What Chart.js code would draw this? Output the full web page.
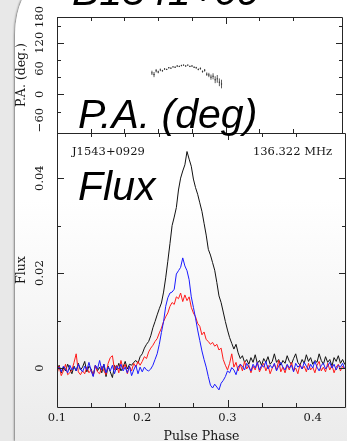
<!DOCTYPE html>
<html>
<head>
<meta charset="utf-8">
<script src="https://cdn.jsdelivr.net/npm/chart.js@4.4.1/dist/chart.umd.min.js"></script>
<style>
html, body { margin: 0; padding: 0; width: 347px; height: 441px; overflow: hidden; background: #e8e8e8; }
#sheet {
  position: absolute; left: 15px; top: -20px; width: 340px; height: 461px;
  border-top-left-radius: 30px 55px;
  background: linear-gradient(to bottom, #fff 0px, #fff 220px, #f6f6f6 330px, #ebebeb 461px);
  box-shadow: -1px 0 2px rgba(0, 0, 0, 0.45);
}
canvas { position: absolute; left: 0; top: 0; }
</style>
</head>
<body>
<div id="sheet"></div>
<canvas id="paChart" width="347" height="441"></canvas>
<canvas id="fluxChart" width="347" height="441"></canvas>
<script>
// profile bins: phase 0.1 upward in steps of 0.0025
const phaseStart = 0.1;
const phaseStep = 0.0025;

// total intensity (black)
const totalI = [
  -0.0004, 0.0006, -0.0010, 0.0002, -0.0006, 0.0008, -0.0002, -0.0012, 0.0004, -0.0006,
  0.0010, -0.0004, 0.0002, 0.0014, -0.0008, 0.0004, -0.0002, -0.0016, 0.0006, -0.0006,
  0.0002, -0.0010, 0.0008, -0.0018, 0.0004, -0.0008, -0.0020, 0.0006, -0.0004, 0.0010,
  -0.0006, 0.0002, 0.0014, -0.0002, 0.0008, 0.0006,
  0.0012, 0.0016, 0.0010, 0.0024, 0.0030, 0.0042, 0.0050, 0.0056, 0.0068, 0.0085,
  0.0098, 0.0112, 0.0125, 0.0137, 0.0160, 0.0190, 0.0225, 0.0262, 0.0300, 0.0318,
  0.0338, 0.0375, 0.0400, 0.0415, 0.0428, 0.0456, 0.0440, 0.0425, 0.0398, 0.0380,
  0.0366, 0.0348, 0.0330, 0.0305, 0.0280, 0.0250, 0.0238, 0.0222, 0.0206, 0.0180,
  0.0152, 0.0138, 0.0118, 0.0098, 0.0080, 0.0064, 0.0052, 0.0040, 0.0050, 0.0032,
  0.0020, 0.0026, 0.0012,
  0.0018, 0.0008, 0.0022, 0.0012, 0.0028, 0.0010, 0.0016, 0.0006, 0.0020, 0.0012,
  0.0024, 0.0008, 0.0014, 0.0030, 0.0012, 0.0018, 0.0006, 0.0016, 0.0010, 0.0026,
  0.0014, 0.0008, 0.0020, 0.0030, 0.0012, 0.0006, 0.0018, 0.0010, 0.0028, 0.0014,
  0.0022, 0.0008, 0.0016, 0.0012, 0.0030, 0.0016, 0.0008, 0.0024, 0.0012, 0.0018,
  0.0004, 0.0022, 0.0014, 0.0026, 0.0010, 0.0018, 0.0008, 0.0016
];

// linear polarisation (red)
const linearL = [
  -0.0012, 0.0004, -0.0016, -0.0006, 0.0008, -0.0014, -0.0010, -0.0004, 0.0012, 0.0030,
  -0.0008, -0.0014, -0.0006, -0.0012, 0.0002, -0.0010, -0.0004, -0.0016, 0.0006, -0.0008,
  -0.0012, 0.0004, -0.0006, -0.0014, 0.0010, 0.0022, 0.0026, -0.0004, 0.0006, -0.0010,
  0.0016, -0.0002, 0.0008, -0.0012, 0.0004, -0.0006, 0.0010, 0.0002, 0.0014, 0.0006,
  0.0014, 0.0024, 0.0020, 0.0034, 0.0042, 0.0048, 0.0056, 0.0062, 0.0074, 0.0084,
  0.0098, 0.0108, 0.0116, 0.0130, 0.0138, 0.0134, 0.0150, 0.0146, 0.0158, 0.0140,
  0.0154, 0.0142, 0.0150, 0.0128, 0.0116, 0.0108, 0.0094, 0.0088, 0.0070, 0.0076,
  0.0060, 0.0056, 0.0050, 0.0054, 0.0046, 0.0050, 0.0038, 0.0042, 0.0018, 0.0006,
  -0.0004, 0.0010, 0.0030, 0.0002, 0.0012, -0.0006,
  0.0008, -0.0006, 0.0014, -0.0002, 0.0006, -0.0010, 0.0004, -0.0004, 0.0012, -0.0008,
  0.0002, 0.0010, -0.0006, 0.0006, -0.0012, 0.0000, 0.0008, -0.0004, 0.0016, -0.0008,
  0.0002, -0.0010, 0.0006, -0.0004, 0.0012, -0.0006, 0.0000, -0.0012, 0.0008, -0.0002,
  0.0004, -0.0008, 0.0010, -0.0004, 0.0002, -0.0010, 0.0006, 0.0014, -0.0006, 0.0002,
  -0.0008, 0.0010, -0.0004, 0.0006, -0.0010, 0.0002, 0.0008, -0.0006, 0.0004, -0.0002,
  0.0006
];

// circular polarisation (blue)
const circularV = [
  -0.0004, 0.0002, -0.0008, 0.0004, -0.0002, -0.0010, 0.0006, -0.0004, 0.0002, -0.0006,
  0.0008, -0.0002, -0.0008, 0.0004, -0.0004, 0.0012, -0.0006, -0.0018, 0.0006, -0.0002,
  0.0016, -0.0004, 0.0008, -0.0010, 0.0002, -0.0006, 0.0006, -0.0012, 0.0004, -0.0002,
  0.0008, -0.0006, 0.0002, -0.0010, 0.0004, -0.0016, -0.0004, 0.0006, -0.0012, 0.0002,
  -0.0008, 0.0002, -0.0004, -0.0006, -0.0002, 0.0006, 0.0018, 0.0030, 0.0050, 0.0075,
  0.0098, 0.0130, 0.0148, 0.0158, 0.0160, 0.0166, 0.0198, 0.0205, 0.0212, 0.0232,
  0.0215, 0.0205, 0.0186, 0.0150, 0.0128, 0.0105, 0.0080, 0.0058, 0.0036, 0.0018,
  0.0002, -0.0018, -0.0036, -0.0042, -0.0034, -0.0040, -0.0046, -0.0032, -0.0026, -0.0018,
  -0.0006, -0.0010, 0.0001, -0.0004, -0.0014, 0.0002, 0.0008,
  0.0004, -0.0004, 0.0010, 0.0002, -0.0006, 0.0008, 0.0000, 0.0012, -0.0004, 0.0006,
  0.0002, 0.0014, -0.0002, 0.0006, 0.0000, 0.0010, -0.0006, 0.0004, 0.0012, 0.0002,
  -0.0004, 0.0008, 0.0000, 0.0006, -0.0008, 0.0010, 0.0002, 0.0006, -0.0002, 0.0012,
  0.0004, -0.0004, 0.0008, 0.0000, 0.0014, 0.0002, -0.0006, 0.0006, 0.0010, -0.0002,
  0.0004, 0.0012, 0.0000, 0.0008, -0.0004, 0.0006, 0.0002, 0.0010, -0.0002, 0.0004
];

// position angle (deg) with error, from phase 0.2125
const paStart = 0.2125;
const paAngle = [
  50, 46, 55, 52, 57, 55, 59, 58, 62, 61, 64, 63, 66, 65, 67, 68, 66,
  68, 65, 66, 63, 62, 58, 60, 53, 56, 47, 45, 40, 42, 34, 36, 28, 24
];
const paError = [
  5, 6, 4, 3, 3, 2, 2, 1.5, 1.5, 1.5, 1.5, 1.5, 1.5, 1.5, 1.5, 1.5, 1.5,
  1.5, 1.5, 1.5, 1.5, 2, 2, 2.5, 2.5, 3, 4, 5, 6, 7, 8, 9, 9, 10
];

const phaseTicks = [0.1, 0.2, 0.3, 0.4];
const paTicks = [-60, 0, 60, 120, 180];
const fluxTicks = [0, 0.02, 0.04];

const serif = '"DejaVu Serif", "Liberation Serif", serif';

function binPhase(start, i) {
  return +(start + i * phaseStep).toFixed(4);
}

function toPoints(values) {
  return values.map((v, i) => ({ x: binPhase(phaseStart, i), y: v }));
}

function multipleOf(v, step) {
  const r = v / step;
  return Math.abs(r - Math.round(r)) < 1e-6;
}

function fmt(v) {
  return v < 0 ? '\u2212' + Math.abs(v) : String(v);
}

// box, inward ticks on all four sides and the pgplot style labels
const frameTicks = {
  id: 'frameTicks',
  afterDatasetsDraw(chart, args, o) {
    const ctx = chart.ctx;
    const a = chart.chartArea;
    const x = chart.scales.x;
    const y = chart.scales.y;
    ctx.save();
    ctx.strokeStyle = '#262626';
    ctx.lineWidth = 1;
    ctx.beginPath();
    ctx.rect(a.left + 0.5, a.top + 0.5, a.right - a.left - 1, a.bottom - a.top);
    x.ticks.forEach(t => {
      if (!multipleOf(t.value, o.xMinor)) return;
      const len = multipleOf(t.value, o.xMajor) ? 7 : 4;
      const px = Math.round(x.getPixelForValue(t.value)) + 0.5;
      ctx.moveTo(px, a.bottom); ctx.lineTo(px, a.bottom - len);
      ctx.moveTo(px, a.top); ctx.lineTo(px, a.top + len);
    });
    y.ticks.forEach(t => {
      if (!multipleOf(t.value, o.yMinor)) return;
      const len = multipleOf(t.value, o.yMajor) ? 7 : 4;
      const py = Math.round(y.getPixelForValue(t.value)) + 0.5;
      ctx.moveTo(a.left, py); ctx.lineTo(a.left + len, py);
      ctx.moveTo(a.right, py); ctx.lineTo(a.right - len, py);
    });
    ctx.stroke();

    ctx.fillStyle = '#161616';
    ctx.textAlign = 'center';
    ctx.textBaseline = 'middle';
    ctx.font = '11.5px ' + serif;
    o.yLabels.forEach(v => {
      ctx.save();
      ctx.translate(40, y.getPixelForValue(v));
      ctx.rotate(-Math.PI / 2);
      ctx.fillText(fmt(v), 0, 0);
      ctx.restore();
    });
    if (o.xLabels) {
      o.xLabels.forEach(v => ctx.fillText(fmt(v), x.getPixelForValue(v), 418));
    }

    ctx.font = '12.5px ' + serif;
    ctx.save();
    ctx.translate(22, (a.top + a.bottom) / 2);
    ctx.rotate(-Math.PI / 2);
    ctx.fillText(o.yTitle, 0, 0);
    ctx.restore();
    if (o.xTitle) {
      ctx.textBaseline = 'alphabetic';
      ctx.fillText(o.xTitle, (a.left + a.right) / 2, 440);
    }
    ctx.restore();
  }
};

const paErrorBars = {
  id: 'paErrorBars',
  afterDatasetsDraw(chart) {
    const ctx = chart.ctx;
    const x = chart.scales.x;
    const y = chart.scales.y;
    ctx.save();
    ctx.strokeStyle = '#333';
    ctx.lineWidth = 0.8;
    ctx.beginPath();
    paAngle.forEach((v, i) => {
      const px = x.getPixelForValue(binPhase(paStart, i));
      ctx.moveTo(px, y.getPixelForValue(v - paError[i]));
      ctx.lineTo(px, y.getPixelForValue(v + paError[i]));
    });
    ctx.stroke();
    ctx.restore();
  }
};

// the big slide captions and the in-plot notes
const captions = {
  id: 'captions',
  afterDraw(chart) {
    const ctx = chart.ctx;
    ctx.save();
    ctx.fillStyle = '#161616';
    ctx.font = '11.5px ' + serif;
    ctx.textBaseline = 'middle';
    ctx.textAlign = 'left';
    ctx.fillText('J1543+0929', 72, 152);
    ctx.textAlign = 'right';
    ctx.fillText('136.322 MHz', 332, 152);

    ctx.fillStyle = '#000';
    ctx.textAlign = 'left';
    ctx.textBaseline = 'alphabetic';
    ctx.font = 'italic 41px "Liberation Sans", Arial, sans-serif';
    ctx.fillText('B1541+09', 72, 4.5);
    ctx.fillText('P.A. (deg)', 78, 128);
    ctx.fillText('Flux', 78, 200);
    ctx.restore();
  }
};

const paData = paAngle.map((v, i) => ({ x: binPhase(paStart, i), y: v }));

new Chart(document.getElementById('paChart'), {
  type: 'scatter',
  data: {
    datasets: [{
      data: paData,
      pointRadius: 0.7,
      pointBackgroundColor: '#333',
      pointBorderWidth: 0,
      showLine: false
    }]
  },
  options: {
    responsive: false,
    animation: false,
    devicePixelRatio: 1,
    events: [],
    layout: { padding: { left: 57, right: 1, top: 17, bottom: 308 } },
    scales: {
      x: { type: 'linear', display: false, min: 0.1, max: 0.439, ticks: { stepSize: 0.02 } },
      y: { type: 'linear', display: false, min: -90, max: 180, ticks: { stepSize: 20 } }
    },
    plugins: {
      legend: { display: false },
      tooltip: { enabled: false },
      frameTicks: {
        xMinor: 0.02, xMajor: 0.1, yMinor: 20, yMajor: 60,
        yLabels: paTicks, yTitle: 'P.A. (deg.)'
      }
    }
  },
  plugins: [paErrorBars, frameTicks]
});

new Chart(document.getElementById('fluxChart'), {
  type: 'line',
  data: {
    datasets: [
      { label: 'I', data: toPoints(totalI), borderColor: '#111', order: 3 },
      { label: 'L', data: toPoints(linearL), borderColor: '#ff1a1a', order: 2 },
      { label: 'V', data: toPoints(circularV), borderColor: '#1a1aff', order: 1 }
    ]
  },
  options: {
    responsive: false,
    animation: false,
    devicePixelRatio: 1,
    events: [],
    layout: { padding: { left: 57, right: 1, top: 133, bottom: 34 } },
    elements: { point: { radius: 0 }, line: { borderWidth: 1, tension: 0 } },
    scales: {
      x: { type: 'linear', display: false, min: 0.1, max: 0.439, ticks: { stepSize: 0.02 } },
      y: { type: 'linear', display: false, min: -0.0082, max: 0.0495, ticks: { stepSize: 0.01 } }
    },
    plugins: {
      legend: { display: false },
      tooltip: { enabled: false },
      frameTicks: {
        xMinor: 0.02, xMajor: 0.1, yMinor: 0.01, yMajor: 0.02,
        yLabels: fluxTicks, yTitle: 'Flux',
        xLabels: phaseTicks, xTitle: 'Pulse Phase'
      }
    }
  },
  plugins: [frameTicks, captions]
});
</script>
</body>
</html>
